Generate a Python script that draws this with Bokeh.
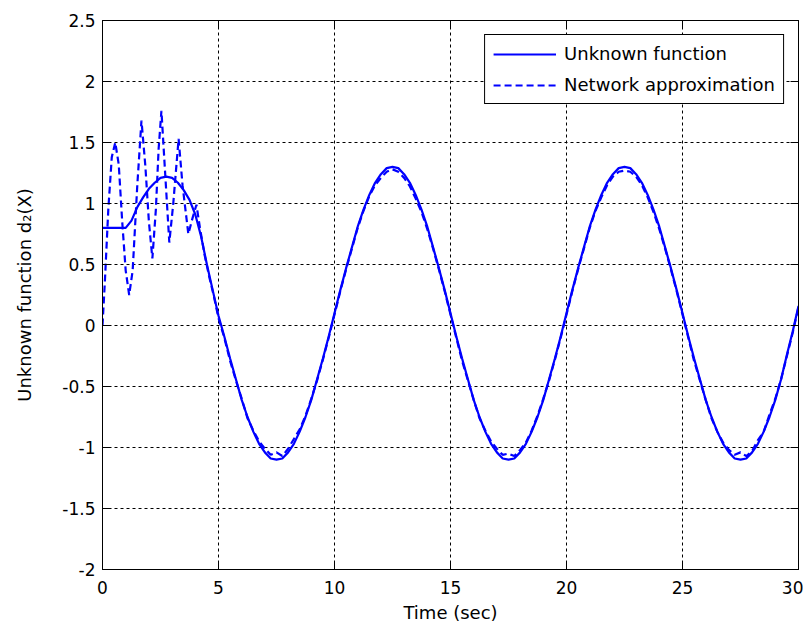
from bokeh.plotting import figure
from bokeh.models import Range1d, LinearAxis, FixedTicker, Legend, LegendItem
from bokeh.embed import file_html
from bokeh.resources import INLINE

# ---- data ----
x_ticks = [0, 5, 10, 15, 20, 25, 30]
x_tick_labels = ["0", "5", "10", "15", "20", "25", "30"]
y_ticks = [-2, -1.5, -1, -0.5, 0, 0.5, 1, 1.5, 2, 2.5]
y_tick_labels = ["-2", "-1.5", "-1", "-0.5", "0", "0.5", "1", "1.5", "2", "2.5"]

# solid curve sampled every 0.25 s from 0 to 30
t_solid = [i * 0.25 for i in range(121)]
y_solid = [
    0.80, 0.80, 0.80, 0.80, 0.80, 0.86, 0.97, 1.05, 1.12, 1.17,
    1.21, 1.22, 1.21, 1.17, 1.11, 1.03, 0.91, 0.73, 0.50, 0.29,
    0.08, -0.09, -0.27, -0.44, -0.61, -0.75, -0.87, -0.97, -1.04, -1.09,
    -1.10, -1.09, -1.04, -0.97, -0.87, -0.75, -0.61, -0.44, -0.27, -0.09,
    0.10, 0.29, 0.47, 0.64, 0.81, 0.95, 1.07, 1.17, 1.24, 1.29,
    1.30, 1.29, 1.24, 1.17, 1.07, 0.95, 0.81, 0.64, 0.47, 0.29,
    0.10, -0.09, -0.27, -0.44, -0.61, -0.75, -0.87, -0.97, -1.04, -1.09,
    -1.10, -1.09, -1.04, -0.97, -0.87, -0.75, -0.61, -0.44, -0.27, -0.09,
    0.10, 0.29, 0.47, 0.64, 0.81, 0.95, 1.07, 1.17, 1.24, 1.29,
    1.30, 1.29, 1.24, 1.17, 1.07, 0.95, 0.81, 0.64, 0.47, 0.29,
    0.10, -0.09, -0.27, -0.44, -0.61, -0.75, -0.87, -0.97, -1.04, -1.09,
    -1.10, -1.09, -1.04, -0.97, -0.87, -0.75, -0.61, -0.44, -0.24, -0.05,
    0.16,
]

# network approximation: oscillating start, then 0.25 s samples
t_net_start = [0.0, 0.1, 0.25, 0.4, 0.55, 0.7, 0.85, 1.0, 1.15, 1.3,
               1.5, 1.68, 1.85, 2.0, 2.15, 2.3, 2.42, 2.54, 2.7, 2.88,
               3.05, 3.28, 3.45, 3.7, 3.88, 4.05, 4.2, 4.4, 4.6, 4.8, 5.0]
y_net_start = [0.00, 0.35, 0.95, 1.38, 1.50, 1.32, 0.85, 0.45, 0.25, 0.45,
               1.15, 1.68, 1.30, 0.85, 0.55, 0.95, 1.45, 1.76, 1.25, 0.68,
               1.00, 1.53, 1.15, 0.75, 0.88, 0.99, 0.80, 0.58, 0.40, 0.24, 0.06]
t_net_rest = [5.0 + i * 0.25 for i in range(1, 101)]
y_net_rest = [
    -0.10, -0.29, -0.45, -0.60, -0.76, -0.86, -0.95, -1.01, -1.06, -1.04,
    -1.07, -1.01, -0.93, -0.85, -0.74, -0.60, -0.45, -0.28, -0.10, 0.09,
    0.28, 0.46, 0.63, 0.80, 0.94, 1.06, 1.15, 1.21, 1.26, 1.28,
    1.26, 1.21, 1.14, 1.04, 0.93, 0.79, 0.63, 0.46, 0.28, 0.09,
    -0.10, -0.29, -0.45, -0.61, -0.76, -0.86, -0.95, -1.01, -1.06, -1.05,
    -1.07, -1.02, -0.96, -0.86, -0.74, -0.60, -0.45, -0.28, -0.10, 0.09,
    0.28, 0.46, 0.63, 0.80, 0.94, 1.05, 1.15, 1.22, 1.26, 1.27,
    1.26, 1.22, 1.15, 1.05, 0.93, 0.79, 0.63, 0.46, 0.28, 0.09,
    -0.10, -0.29, -0.45, -0.61, -0.76, -0.87, -0.96, -1.02, -1.06, -1.04,
    -1.07, -1.03, -0.94, -0.87, -0.73, -0.60, -0.44, -0.25, -0.06, 0.15,
]
t_net = t_net_start + t_net_rest
y_net = y_net_start + y_net_rest

label_solid = "Unknown function"
label_net = "Network approximation"
x_title = "Time (sec)"
y_title = "Unknown function d\u2082(X)"

FONT = "DejaVu Sans"
BLUE = "#0000ff"

p = figure(frame_width=696, frame_height=549,
           x_range=Range1d(0, 30), y_range=Range1d(-2, 2.5),
           output_backend="svg", toolbar_location=None,
           min_border_left=102, min_border_right=5,
           min_border_top=20, min_border_bottom=52)
p.background_fill_color = "white"
p.border_fill_color = "white"
p.outline_line_color = "black"
p.outline_line_width = 1
p.outline_line_alpha = 1

xt = FixedTicker(ticks=x_ticks)
yt = FixedTicker(ticks=y_ticks)
xo = {v: s for v, s in zip(x_ticks, x_tick_labels)}
yo = {v: s for v, s in zip(y_ticks, y_tick_labels)}


def style_axis(ax, ticker, overrides, show_labels):
    ax.ticker = ticker
    ax.major_label_overrides = overrides
    ax.axis_line_color = "black"
    ax.major_tick_line_color = "black"
    ax.major_tick_in = 8
    ax.major_tick_out = 0
    ax.minor_tick_line_color = None
    ax.major_label_text_font = FONT
    ax.major_label_text_color = "black"
    if show_labels:
        ax.major_label_text_font_size = "17px"
    else:
        ax.major_label_text_font_size = "0px"
        ax.major_label_standoff = 0


style_axis(p.xaxis[0], xt, xo, True)
style_axis(p.yaxis[0], yt, yo, True)
p.xaxis[0].major_label_standoff = 11
p.yaxis[0].major_label_standoff = 7

p.xaxis[0].axis_label = x_title
p.yaxis[0].axis_label = y_title
for ax in (p.xaxis[0], p.yaxis[0]):
    ax.axis_label_text_font = FONT
    ax.axis_label_text_font_size = "18px"
    ax.axis_label_text_font_style = "normal"
    ax.axis_label_text_color = "black"
p.xaxis[0].axis_label_standoff = 5
p.yaxis[0].axis_label_standoff = 24

top_ax = LinearAxis()
right_ax = LinearAxis()
style_axis(top_ax, xt, {v: "" for v in x_ticks}, False)
style_axis(right_ax, yt, {v: "" for v in y_ticks}, False)
p.add_layout(top_ax, "above")
p.add_layout(right_ax, "right")

p.xgrid.ticker = xt
p.ygrid.ticker = yt
for g in (p.xgrid[0], p.ygrid[0]):
    g.grid_line_color = "black"
    g.grid_line_alpha = 1
    g.grid_line_width = 1
    g.grid_line_dash = "3 3"

r_solid = p.line(t_solid, y_solid, line_color=BLUE, line_width=2.2)
r_net = p.line(t_net, y_net, line_color=BLUE, line_width=2.2, line_dash="7 4")

legend = Legend(items=[LegendItem(label=label_solid, renderers=[r_solid]),
                       LegendItem(label=label_net, renderers=[r_net])],
                location="top_right")
legend.margin = 14
legend.padding = 8
legend.spacing = 10
legend.glyph_width = 63
legend.glyph_height = 20
legend.label_height = 20
legend.label_standoff = 8
legend.label_text_font = FONT
legend.label_text_font_size = "18px"
legend.label_text_color = "black"
legend.border_line_color = "black"
legend.border_line_width = 1
legend.border_line_alpha = 1
legend.background_fill_color = "white"
legend.background_fill_alpha = 1
p.add_layout(legend)

open("out.html", "w").write(file_html(p, INLINE))
